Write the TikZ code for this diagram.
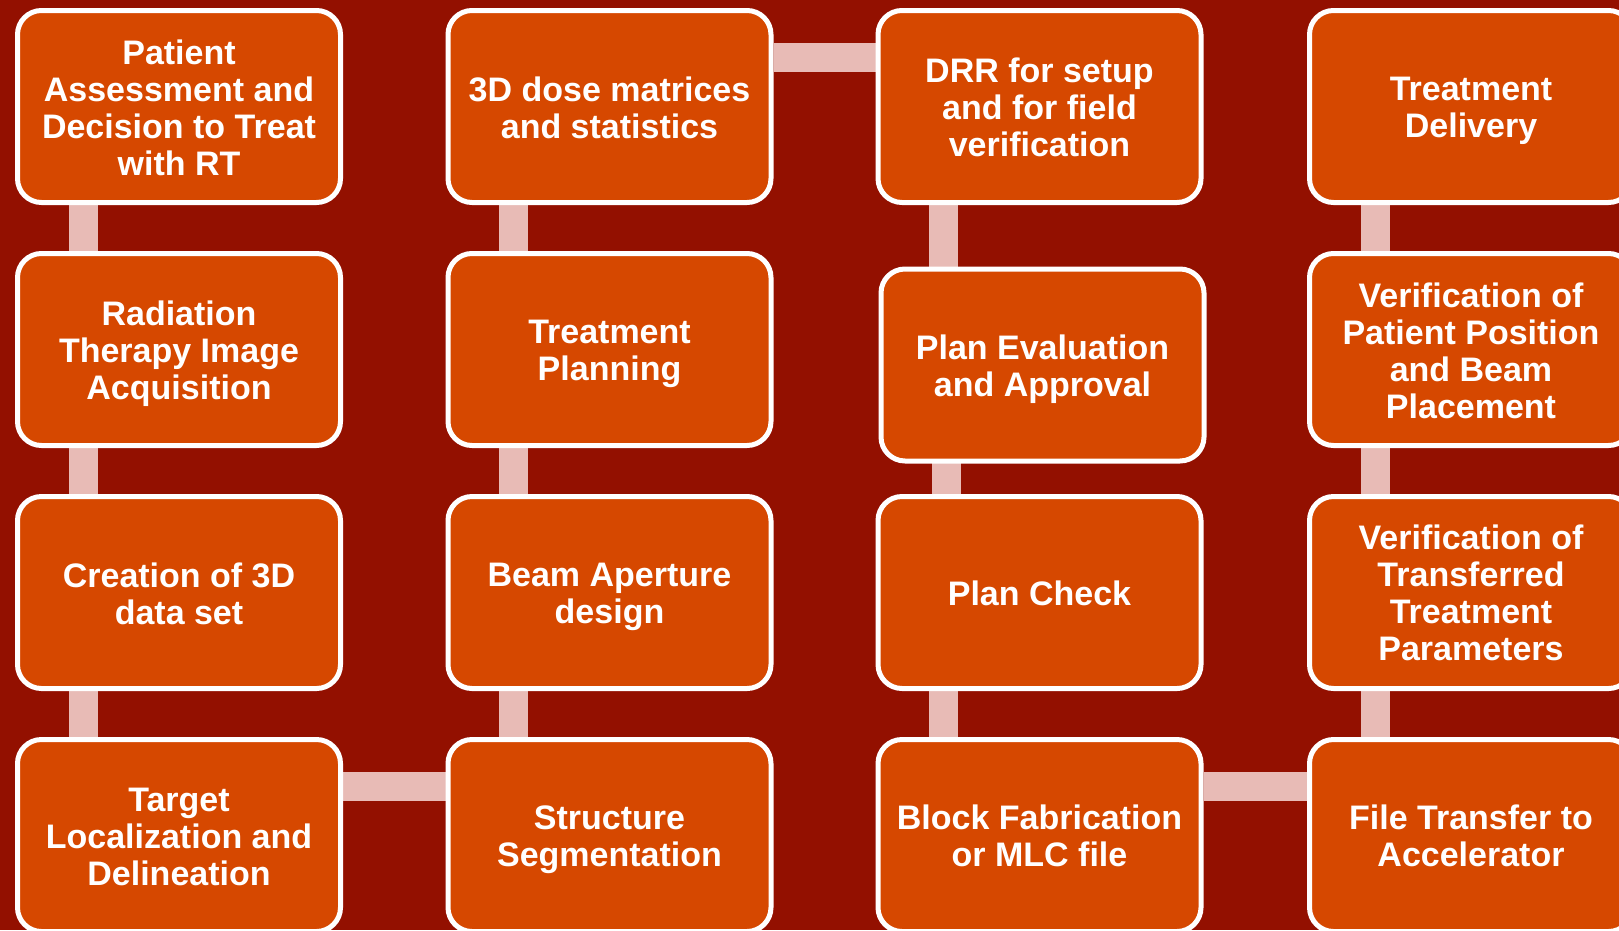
\documentclass[tikz,border=0pt]{standalone}
\usepackage{fontspec}
\newfontfamily\boxfont{Liberation Sans}
\definecolor{bgred}{RGB}{147,16,0}
\definecolor{boxorange}{RGB}{214,72,0}
\definecolor{linkpink}{RGB}{232,187,182}
\newcommand{\lnstrut}{\rule[-7pt]{0pt}{37pt}}
\pgfdeclarelayer{bgl}
\pgfdeclarelayer{lnk}
\pgfsetlayers{bgl,lnk,main}
\tikzset{
  stepbox/.style={draw=white, line width=5pt, fill=boxorange, rounded corners=24pt,
    minimum width=323pt, minimum height=192pt, inner sep=0pt},
  boxtext/.style={inner sep=0pt, text=white, align=center,
    font=\boxfont\bfseries\fontsize{34}{37}\selectfont,
    execute at begin node=\lnstrut, execute at end node=\lnstrut},
  link/.style={draw=linkpink, line width=29pt}
}
% #1 name, #2 position, #3 text, #4 text offset
\newcommand{\stepnode}[4]{%
  \node[stepbox] (#1) at (#2) {};
  \node[boxtext] (#1t) at ([yshift=#4]#1.center) {#3};}
\begin{document}
\begin{tikzpicture}[x=1pt,y=-1pt]
\useasboundingbox (0,0) rectangle (1619,930);
\clip (0,0) rectangle (1619,930);
\begin{pgfonlayer}{bgl}
\fill[bgred] (0,0) rectangle (1619,930);
\end{pgfonlayer}
% column 0
\stepnode{a1}{179,106.5}{Patient\\Assessment and\\Decision to Treat\\with RT}{-4.6pt}
\stepnode{a2}{179,349.5}{Radiation\\Therapy Image\\Acquisition}{-4.6pt}
\stepnode{a3}{179,592.5}{Creation of 3D\\data set}{-4.6pt}
\stepnode{a4}{179,835.5}{Target\\Localization and\\Delineation}{-4.6pt}
% column 1
\stepnode{b1}{609.5,106.5}{3D dose matrices\\and statistics}{-4.6pt}
\stepnode{b2}{609.5,349.5}{Treatment\\Planning}{-4.6pt}
\stepnode{b3}{609.5,592.5}{Beam Aperture\\design}{-4.6pt}
\stepnode{b4}{609.5,835.5}{Structure\\Segmentation}{-4pt}
% column 2
\stepnode{c1}{1039.5,106.5}{DRR for setup\\and for field\\verification}{-4.6pt}
\stepnode{c2}{1042.5,365}{Plan Evaluation\\and Approval}{-4.6pt}
\stepnode{c3}{1039.5,592.5}{Plan Check}{-1pt}
\stepnode{c4}{1039.5,835.5}{Block Fabrication\\or MLC file}{-3.5pt}
% column 3
\stepnode{d1}{1471,106.5}{Treatment\\Delivery}{-4.6pt}
\stepnode{d2}{1471,349.5}{Verification of\\Patient Position\\and Beam\\Placement}{-4.6pt}
\stepnode{d3}{1471,592.5}{Verification of\\Transferred\\Treatment\\Parameters}{-3.5pt}
\stepnode{d4}{1471,835.5}{File Transfer to\\Accelerator}{-4pt}
\begin{pgfonlayer}{lnk}
\foreach \u/\v in {a1/a2,a2/a3,a3/a4,b4/b3,b3/b2,b2/b1,c1/c2,c2/c3,c3/c4,d4/d3,d3/d2,d2/d1}{
  \draw[link] ([xshift=68pt]\u.south west |- \u.center) -- ([xshift=68pt]\u.south west |- \v.center);
}
\draw[link] ([yshift=-49pt]a4.north east) -- ([yshift=-49pt]a4.north east -| b4.west);
\draw[link] ([yshift=-49.5pt]b1.north east) -- ([yshift=-49.5pt]b1.north east -| c1.west);
\draw[link] ([yshift=-49pt]c4.north east) -- ([yshift=-49pt]c4.north east -| d4.west);
\end{pgfonlayer}
\end{tikzpicture}
\end{document}
